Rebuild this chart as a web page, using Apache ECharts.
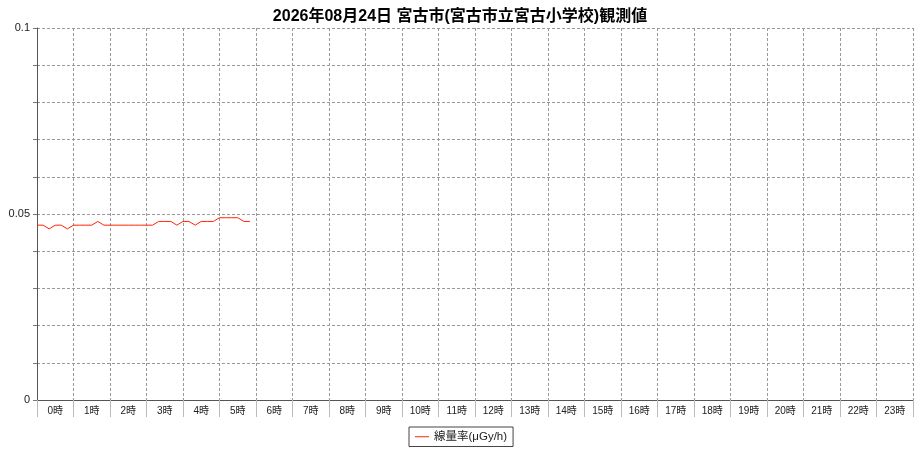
<!DOCTYPE html>
<html>
<head>
    <meta charset="utf-8">
    <title>宮古市 観測値</title>
    <script src="https://cdn.jsdelivr.net/npm/echarts@6/dist/echarts.min.js"></script>
    <style>
        html, body { margin: 0; padding: 0; background: #fff; }
    </style>
</head>
<body>
<div id="main" style="width: 920px; height: 450px;"></div>
<script type="text/javascript">
    // 10分ごとのスロット (0:00 〜 24:00)
    var slots = [];
    for (var h = 0; h <= 24; h++) {
        for (var m = 0; m < 60; m += 10) {
            if (h === 24 && m > 0) break;
            slots.push(h + ':' + (m === 0 ? '00' : m));
        }
    }
    var hourLabels = ['0時', '1時', '2時', '3時', '4時', '5時', '6時', '7時', '8時', '9時', '10時', '11時',
        '12時', '13時', '14時', '15時', '16時', '17時', '18時', '19時', '20時', '21時', '22時', '23時'];
    // 線量率 (μGy/h), 0:00 〜 5:50
    var doseRate = [
        0.047, 0.047, 0.046, 0.047, 0.047, 0.046,
        0.047, 0.047, 0.047, 0.047, 0.048, 0.047,
        0.047, 0.047, 0.047, 0.047, 0.047, 0.047,
        0.047, 0.047, 0.048, 0.048, 0.048, 0.047,
        0.048, 0.048, 0.047, 0.048, 0.048, 0.048,
        0.049, 0.049, 0.049, 0.049, 0.048, 0.048
    ];
    var yLabels = ['0', '0.05', '0.1'];

    var myChart = echarts.init(document.getElementById('main'));
    var font = 'Liberation Sans, DejaVu Sans, Noto Sans CJK JP, sans-serif';

    var option = {
        backgroundColor: '#fff',
        animation: false,
        textStyle: { fontFamily: font },
        title: {
            text: '2026年08月24日 宮古市(宮古市立宮古小学校)観測値',
            left: 'center',
            top: 4,
            textStyle: { fontSize: 16, fontWeight: 'bold', color: '#000', fontFamily: font }
        },
        legend: {
            data: ['線量率(μGy/h)'],
            left: 409,
            top: 427,
            padding: [4, 6, 4, 6],
            borderColor: '#444',
            borderWidth: 1,
            icon: 'rect',
            itemWidth: 14,
            itemHeight: 1,
            itemGap: 4,
            textStyle: { fontSize: 11.5, color: '#222', fontFamily: font }
        },
        grid: { left: 37, right: 7, top: 28, bottom: 50, containLabel: false },
        xAxis: [
            {
                type: 'category',
                data: slots,
                boundaryGap: false,
                axisLine: { show: true, lineStyle: { color: '#555', width: 1 } },
                axisTick: { show: false },
                axisLabel: { show: false },
                splitLine: {
                    show: true,
                    interval: 5,
                    lineStyle: { color: '#999', type: [3, 2], width: 1 }
                }
            },
            {
                type: 'category',
                data: hourLabels,
                position: 'bottom',
                boundaryGap: true,
                axisLine: { show: false },
                axisTick: { show: true, length: 17, lineStyle: { color: '#bbb' } },
                axisLabel: { fontSize: 10, color: '#222', margin: 6, fontFamily: font },
                splitLine: { show: false }
            }
        ],
        yAxis: {
            type: 'value',
            min: 0,
            max: 0.1,
            interval: 0.01,
            axisLine: { show: true, lineStyle: { color: '#555', width: 1 } },
            axisTick: { show: true, length: 4, lineStyle: { color: '#777' } },
            axisLabel: {
                fontSize: 11,
                color: '#222',
                margin: 7,
                fontFamily: font,
                formatter: function (v) {
                    var s = String(Math.round(v * 1000) / 1000);
                    return yLabels.indexOf(s) >= 0 ? s : '';
                }
            },
            splitLine: { show: true, lineStyle: { color: '#999', type: [3, 2], width: 1 } }
        },
        series: [
            {
                name: '線量率(μGy/h)',
                type: 'line',
                xAxisIndex: 0,
                data: doseRate,
                symbol: 'none',
                showSymbol: false,
                lineStyle: { color: '#ff2200', width: 1 },
                itemStyle: { color: '#ff2200' }
            }
        ]
    };

    myChart.setOption(option);
</script>
</body>
</html>
